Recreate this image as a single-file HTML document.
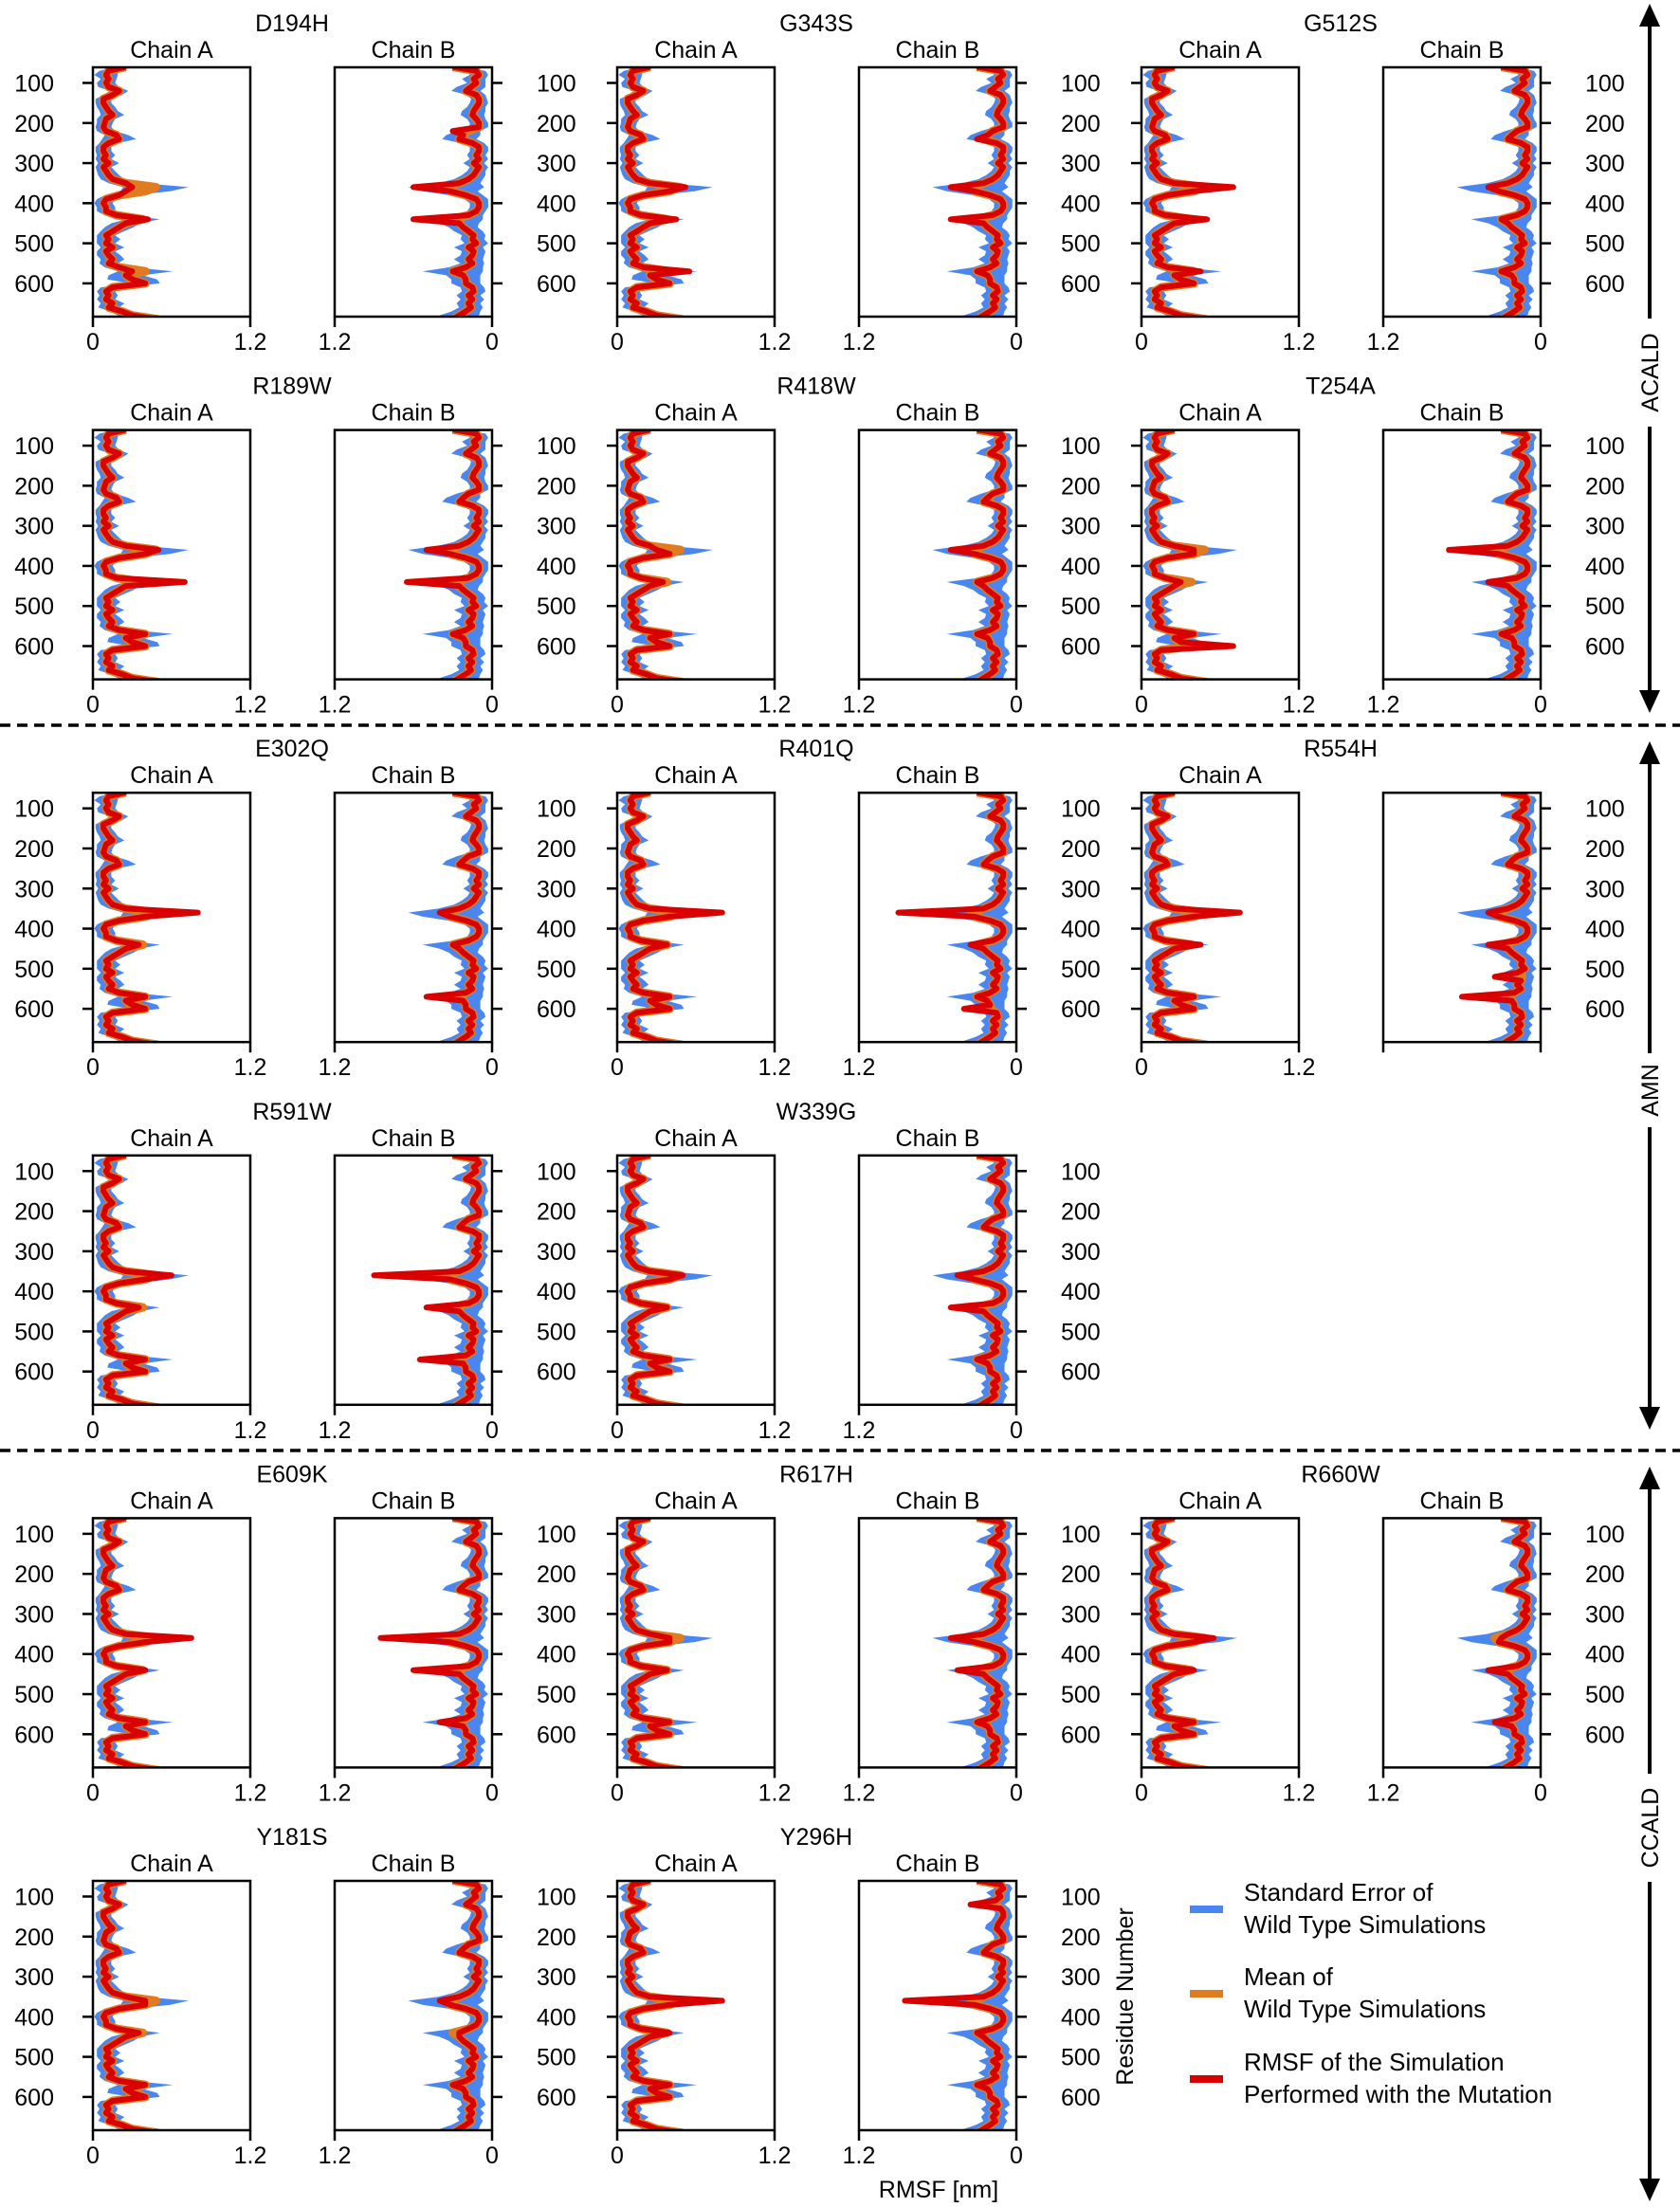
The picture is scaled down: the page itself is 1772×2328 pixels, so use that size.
<!DOCTYPE html>
<html><head><meta charset="utf-8"><style>
html,body{margin:0;padding:0;background:#fff;}
svg{display:block;font-family:"Liberation Sans",sans-serif;}
</style></head><body>
<svg id="fig" width="1772" height="2328" viewBox="0 0 1772 2328" xmlns="http://www.w3.org/2000/svg"></svg>
<script>
// ---- data ----
const residues = [60,70,80,90,100,110,120,130,140,150,160,170,180,190,200,210,220,230,240,250,260,270,280,290,300,310,320,330,340,350,360,370,380,390,400,410,420,430,440,450,460,470,480,490,500,510,520,530,540,550,560,570,580,590,600,610,620,630,640,650,660,670,680,690];
const wtMeanA = [0.25,0.12,0.10,0.12,0.10,0.12,0.20,0.15,0.08,0.08,0.10,0.12,0.15,0.10,0.09,0.08,0.10,0.18,0.20,0.12,0.08,0.08,0.10,0.08,0.12,0.08,0.10,0.12,0.15,0.25,0.48,0.40,0.20,0.10,0.08,0.10,0.10,0.18,0.38,0.25,0.20,0.15,0.10,0.12,0.10,0.15,0.10,0.12,0.15,0.12,0.20,0.40,0.25,0.30,0.40,0.15,0.10,0.12,0.10,0.15,0.12,0.22,0.30,0.50];
const wtSeA   = [0.07,0.07,0.09,0.06,0.07,0.08,0.07,0.07,0.06,0.06,0.07,0.07,0.09,0.07,0.06,0.06,0.07,0.09,0.13,0.07,0.06,0.06,0.07,0.06,0.08,0.06,0.07,0.08,0.09,0.13,0.25,0.19,0.11,0.07,0.07,0.07,0.07,0.09,0.13,0.11,0.11,0.09,0.07,0.09,0.07,0.09,0.07,0.09,0.09,0.07,0.11,0.21,0.13,0.19,0.11,0.09,0.07,0.07,0.07,0.09,0.08,0.09,0.11,0.13];
const wtMeanB = [0.30,0.12,0.10,0.14,0.12,0.16,0.20,0.12,0.10,0.10,0.12,0.14,0.15,0.12,0.10,0.10,0.18,0.22,0.25,0.15,0.10,0.10,0.12,0.10,0.14,0.10,0.12,0.14,0.18,0.25,0.35,0.32,0.20,0.12,0.10,0.10,0.12,0.18,0.30,0.25,0.22,0.18,0.14,0.15,0.12,0.18,0.14,0.15,0.18,0.15,0.20,0.30,0.22,0.20,0.20,0.15,0.14,0.18,0.15,0.18,0.16,0.20,0.25,0.30];
const wtSeB   = [0.09,0.07,0.07,0.09,0.07,0.11,0.11,0.07,0.06,0.07,0.07,0.09,0.09,0.07,0.07,0.07,0.09,0.13,0.13,0.09,0.07,0.07,0.07,0.07,0.08,0.07,0.07,0.09,0.11,0.16,0.29,0.21,0.13,0.09,0.07,0.07,0.07,0.11,0.23,0.15,0.11,0.11,0.09,0.09,0.09,0.11,0.09,0.09,0.11,0.09,0.13,0.23,0.13,0.11,0.11,0.09,0.09,0.09,0.09,0.09,0.09,0.11,0.15,0.15];
const mutations = ["D194H","G343S","G512S","R189W","R418W","T254A","E302Q","R401Q","R554H","R591W","W339G","E609K","R617H","R660W","Y181S","Y296H"];
const redOverridesA = [
 [[360,0.30],[370,0.25],[440,0.42],[570,0.30]],
 [[360,0.52],[440,0.45],[570,0.55]],
 [[360,0.70],[440,0.50],[570,0.45]],
 [[360,0.50],[440,0.70]],
 [[360,0.30],[440,0.35]],
 [[360,0.40],[440,0.30],[600,0.70]],
 [[360,0.80],[440,0.35]],
 [[360,0.80],[570,0.40]],
 [[360,0.75],[440,0.45]],
 [[360,0.60],[440,0.35]],
 [[360,0.50]],
 [[360,0.75],[440,0.40]],
 [[360,0.40]],
 [[360,0.55],[440,0.40]],
 [[360,0.40],[440,0.35]],
 [[360,0.80],[440,0.40]]];
const redOverridesB = [
 [[220,0.30],[360,0.60],[440,0.60]],
 [[240,0.30],[360,0.50],[440,0.50]],
 [[360,0.40],[440,0.30],[570,0.30]],
 [[60,0.30],[360,0.50],[440,0.65]],
 [[360,0.50],[440,0.30]],
 [[360,0.70],[440,0.40]],
 [[360,0.40],[440,0.30],[570,0.50]],
 [[360,0.90],[440,0.35],[600,0.40]],
 [[360,0.40],[440,0.40],[520,0.35],[570,0.60]],
 [[360,0.90],[440,0.50],[570,0.55]],
 [[360,0.45],[440,0.50]],
 [[360,0.85],[440,0.60],[570,0.40]],
 [[360,0.50],[440,0.45]],
 [[360,0.30],[440,0.40],[570,0.35]],
 [[360,0.40],[440,0.25]],
 [[120,0.35],[360,0.85],[440,0.30]]];
const yTicks = [100,200,300,400,500,600];
const xTickLabels = ["0","1.2"];
const groups = ["ACALD","AMN","CCALD"];

// ---- layout ----
const NS="http://www.w3.org/2000/svg";
const svg=document.getElementById('fig');
function mk(tag,attrs,parent,text){const e=document.createElementNS(NS,tag);for(const k in attrs)e.setAttribute(k,attrs[k]);if(text!==undefined)e.textContent=text;(parent||svg).appendChild(e);return e;}
const pairLeft=[98,651,1204], bOffset=255, PW=166, PH=263;
const rowTop=r=>71+r*382.6;
const Y0=61,Y1=683, XMAX=1.2;
const layout=[[0,1,2],[3,4,5],[6,7,8],[9,10],[11,12,13],[14,15]];

function panel(g,x0,top,mean,se,over,mirror,showTitle,showX,label,showYLabels){
  const ys=r=>top+(r-Y0)/(Y1-Y0)*PH;
  const xs=v=>{v=Math.max(0,Math.min(v,XMAX));return mirror?x0+PW-v/XMAX*PW:x0+v/XMAX*PW;};
  const cid='c'+Math.round(x0)+'_'+Math.round(top);
  const cp=mk('clipPath',{id:cid},g);mk('rect',{x:x0,y:top,width:PW,height:PH},cp);
  const inner=mk('g',{'clip-path':'url(#'+cid+')'},g);
  let up=[],dn=[];
  residues.forEach((r,i)=>{up.push(xs(mean[i]+se[i]).toFixed(1)+','+ys(r).toFixed(1));dn.unshift(xs(Math.max(0.01,mean[i]-se[i])).toFixed(1)+','+ys(r).toFixed(1));});
  const band=mk('polygon',{points:up.concat(dn).join(' '),fill:'#4a86f0'},inner);
  
  
  const mline=mk('polyline',{points:residues.map((r,i)=>xs(mean[i]).toFixed(1)+','+ys(r).toFixed(1)).join(' '),fill:'none',stroke:'#e07b20','stroke-width':9,'stroke-linejoin':'round'},inner);
  
  
  const red=mean.slice();
  over.forEach(([r,v])=>{const i=residues.indexOf(r);if(i>=0)red[i]=v;});
  const rline=mk('polyline',{points:residues.map((r,i)=>xs(red[i]).toFixed(1)+','+ys(r).toFixed(1)).join(' '),fill:'none',stroke:'#d90000','stroke-width':6,'stroke-linejoin':'round'},inner);
  
  
  mk('rect',{x:x0,y:top,width:PW,height:PH,fill:'none',stroke:'#000','stroke-width':2.5},g);
  const tx=mirror?x0+PW:x0, dir=mirror?1:-1;
  yTicks.forEach(t=>{const y=ys(t);mk('line',{x1:tx,x2:tx+dir*11,y1:y,y2:y,stroke:'#000','stroke-width':2.5},g);
    if(showYLabels){const tl=mk('text',{x:mirror?tx+47:tx-41,y:y+9,'font-size':25,'text-anchor':mirror?'start':'end'},g,String(t));
    }});
  [0,XMAX].forEach((v,k)=>{const x=xs(v);mk('line',{x1:x,x2:x,y1:top+PH,y2:top+PH+11,stroke:'#000','stroke-width':2.5},g);
    if(showX){const xl=mk('text',{x:x,y:top+PH+35,'font-size':25,'text-anchor':'middle'},g,xTickLabels[k]);
    }});
  if(showTitle){const t=mk('text',{x:x0+PW/2,y:top-10,'font-size':25,'text-anchor':'middle'},g,label);
    }
}
layout.forEach((row,r)=>{row.forEach((mi,c)=>{
  const g=mk('g',{});
  
  
  const top=rowTop(r), ax=pairLeft[c];
  const t=mk('text',{x:ax+210,y:top-38,'font-size':25,'text-anchor':'middle'},g,mutations[mi]);
  
  const special=mutations[mi]==="R554H";
  panel(g,ax,top,wtMeanA,wtSeA,redOverridesA[mi],false,true,true,'Chain A',c===0);
  panel(g,ax+bOffset,top,wtMeanB,wtSeB,redOverridesB[mi],true,!special,!special,'Chain B',true);
});});
// separators
[765,1530].forEach(y=>{const l=mk('line',{x1:0,x2:1772,y1:y,y2:y,stroke:'#000','stroke-width':3.5,'stroke-dasharray':'11,7'});
  });
// group arrows
const spans=[[4,752,393],[782,1508,1150],[1547,2322,1928]];
spans.forEach(([a,b,m],i)=>{const g=mk('g',{});
  
  const x=1740, half=groups[i].length*9+12;
  mk('line',{x1:x,x2:x,y1:a+20,y2:m-half,stroke:'#000','stroke-width':4},g);
  mk('line',{x1:x,x2:x,y1:m+half,y2:b-20,stroke:'#000','stroke-width':4},g);
  mk('polygon',{points:`${x},${a} ${x-11},${a+24} ${x+11},${a+24}`,fill:'#000'},g);
  mk('polygon',{points:`${x},${b} ${x-11},${b-24} ${x+11},${b-24}`,fill:'#000'},g);
  mk('text',{x:x+9,y:m,'font-size':25,'text-anchor':'middle',transform:`rotate(-90 ${x+9} ${m})`},g,groups[i]);
});
// axis titles
let t=mk('text',{x:1195,y:2106,'font-size':25,'text-anchor':'middle',transform:'rotate(-90 1195 2106)'},svg,'Residue Number');

t=mk('text',{x:990,y:2318,'font-size':25,'text-anchor':'middle'},svg,'RMSF [nm]');

// legend
const leg=[['#4a86f0','Standard Error of','Wild Type Simulations',2014],['#e07b20','Mean of','Wild Type Simulations',2103],['#d90000','RMSF of the Simulation','Performed with the Mutation',2193]];
leg.forEach(([c,l1,l2,y])=>{const g=mk('g',{});
  
  mk('rect',{x:1255,y:y-4,width:35,height:8,fill:c},g);
  mk('text',{x:1312,y:y-9,'font-size':26},g,l1);
  mk('text',{x:1312,y:y+25,'font-size':26},g,l2);
});
</script>
</body></html>
